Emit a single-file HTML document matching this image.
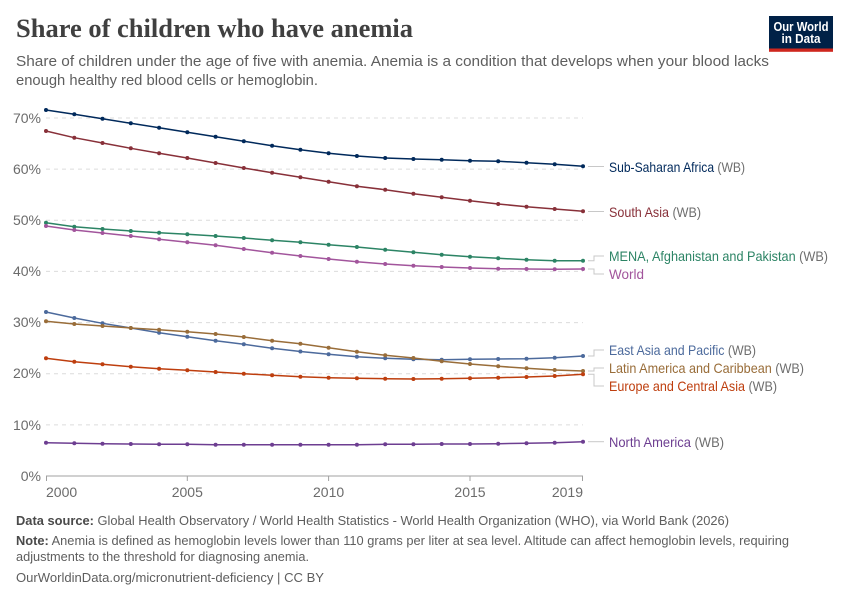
<!DOCTYPE html>
<html><head><meta charset="utf-8"><style>
html,body{margin:0;padding:0;background:#fff;}
svg{display:block;}
text{font-family:"Liberation Sans",sans-serif;}
</style></head><body>
<svg width="850" height="600" viewBox="0 0 850 600" xmlns="http://www.w3.org/2000/svg">
<defs>
<marker id="m1" markerUnits="userSpaceOnUse" markerWidth="6" markerHeight="6" refX="3" refY="3"><circle cx="3" cy="3" r="2" fill="#00295b"/></marker>
<marker id="m2" markerUnits="userSpaceOnUse" markerWidth="6" markerHeight="6" refX="3" refY="3"><circle cx="3" cy="3" r="2" fill="#883039"/></marker>
<marker id="m3" markerUnits="userSpaceOnUse" markerWidth="6" markerHeight="6" refX="3" refY="3"><circle cx="3" cy="3" r="2" fill="#2c8465"/></marker>
<marker id="m4" markerUnits="userSpaceOnUse" markerWidth="6" markerHeight="6" refX="3" refY="3"><circle cx="3" cy="3" r="2" fill="#a2559c"/></marker>
<marker id="m5" markerUnits="userSpaceOnUse" markerWidth="6" markerHeight="6" refX="3" refY="3"><circle cx="3" cy="3" r="2" fill="#4c6a9c"/></marker>
<marker id="m6" markerUnits="userSpaceOnUse" markerWidth="6" markerHeight="6" refX="3" refY="3"><circle cx="3" cy="3" r="2" fill="#996d39"/></marker>
<marker id="m7" markerUnits="userSpaceOnUse" markerWidth="6" markerHeight="6" refX="3" refY="3"><circle cx="3" cy="3" r="2" fill="#be3e0e"/></marker>
<marker id="m8" markerUnits="userSpaceOnUse" markerWidth="6" markerHeight="6" refX="3" refY="3"><circle cx="3" cy="3" r="2" fill="#6d3e91"/></marker>
</defs>

<!-- Title -->
<text x="16" y="37" font-family="Liberation Serif, serif" style="font-family:'Liberation Serif',serif" font-size="26" font-weight="bold" fill="#404040" textLength="397" lengthAdjust="spacingAndGlyphs">Share of children who have anemia</text>
<text x="16" y="66" font-size="15" fill="#5e5e5e" textLength="753" lengthAdjust="spacingAndGlyphs">Share of children under the age of five with anemia. Anemia is a condition that develops when your blood lacks</text>
<text x="16" y="85" font-size="15" fill="#5e5e5e" textLength="302" lengthAdjust="spacingAndGlyphs">enough healthy red blood cells or hemoglobin.</text>

<!-- Logo -->
<rect x="769" y="16" width="64" height="32.5" fill="#002147"/>
<rect x="769" y="48.5" width="64" height="3.3" fill="#ce261e"/>
<text x="801" y="31" font-size="12.5" font-weight="bold" fill="#fff" text-anchor="middle" textLength="55" lengthAdjust="spacingAndGlyphs">Our World</text>
<text x="801" y="43" font-size="12.5" font-weight="bold" fill="#fff" text-anchor="middle" textLength="39" lengthAdjust="spacingAndGlyphs">in Data</text>

<!-- Gridlines -->
<g stroke="#dcdcdc" stroke-width="1" stroke-dasharray="4,4">
<line x1="46" y1="118" x2="583" y2="118"/>
<line x1="46" y1="169.1" x2="583" y2="169.1"/>
<line x1="46" y1="220.3" x2="583" y2="220.3"/>
<line x1="46" y1="271.4" x2="583" y2="271.4"/>
<line x1="46" y1="322.6" x2="583" y2="322.6"/>
<line x1="46" y1="373.7" x2="583" y2="373.7"/>
<line x1="46" y1="424.9" x2="583" y2="424.9"/>
</g>
<!-- Y labels -->
<g font-size="14" fill="#6b6b6b" text-anchor="end">
<text x="41" y="123">70%</text>
<text x="41" y="174">60%</text>
<text x="41" y="225">50%</text>
<text x="41" y="276">40%</text>
<text x="41" y="327">30%</text>
<text x="41" y="378">20%</text>
<text x="41" y="430">10%</text>
<text x="41" y="481">0%</text>
</g>
<!-- X axis -->
<line x1="46" y1="476" x2="583" y2="476" stroke="#a0a0a0" stroke-width="1"/>
<g stroke="#a0a0a0" stroke-width="1">
<line x1="46.5" y1="476" x2="46.5" y2="481"/>
<line x1="187.3" y1="476" x2="187.3" y2="481"/>
<line x1="328.6" y1="476" x2="328.6" y2="481"/>
<line x1="470" y1="476" x2="470" y2="481"/>
<line x1="582.5" y1="476" x2="582.5" y2="481"/>
</g>
<g font-size="14" fill="#6b6b6b">
<text x="46" y="497">2000</text>
<text x="187.3" y="497" text-anchor="middle">2005</text>
<text x="328.6" y="497" text-anchor="middle">2010</text>
<text x="470" y="497" text-anchor="middle">2015</text>
<text x="583" y="497" text-anchor="end">2019</text>
</g>

<!-- Series -->
<g fill="none" stroke-width="1.5" stroke-linejoin="round">
<polyline stroke="#00295b" marker-start="url(#m1)" marker-mid="url(#m1)" marker-end="url(#m1)" points="46,110 74.3,114.3 102.5,118.7 130.8,123.3 159.1,127.7 187.3,132.3 215.6,136.7 243.8,141.3 272.1,145.7 300.4,149.7 328.6,153.3 356.9,156 385.2,158 413.4,159 441.7,159.7 470,160.7 498.2,161.3 526.5,162.7 554.7,164.3 583,166.3"/>
<polyline stroke="#883039" marker-start="url(#m2)" marker-mid="url(#m2)" marker-end="url(#m2)" points="46,131 74.3,137.7 102.5,143 130.8,148.3 159.1,153.3 187.3,158 215.6,163 243.8,168 272.1,172.7 300.4,177.3 328.6,181.7 356.9,186.3 385.2,189.7 413.4,193.7 441.7,197.3 470,200.7 498.2,204 526.5,206.7 554.7,209 583,211.3"/>
<polyline stroke="#2c8465" marker-start="url(#m3)" marker-mid="url(#m3)" marker-end="url(#m3)" points="46,222.7 74.3,226.7 102.5,229 130.8,231 159.1,232.7 187.3,234.3 215.6,236 243.8,238 272.1,240.3 300.4,242.3 328.6,244.7 356.9,247 385.2,249.7 413.4,252.3 441.7,254.7 470,256.7 498.2,258.3 526.5,259.7 554.7,260.7 583,260.7"/>
<polyline stroke="#a2559c" marker-start="url(#m4)" marker-mid="url(#m4)" marker-end="url(#m4)" points="46,226 74.3,230 102.5,233 130.8,236 159.1,239.3 187.3,242.3 215.6,245.3 243.8,249 272.1,252.7 300.4,256 328.6,259 356.9,261.7 385.2,264 413.4,265.7 441.7,267 470,268 498.2,268.7 526.5,269 554.7,269.3 583,269"/>
<polyline stroke="#4c6a9c" marker-start="url(#m5)" marker-mid="url(#m5)" marker-end="url(#m5)" points="46,312 74.3,318 102.5,323.3 130.8,328 159.1,332.7 187.3,336.7 215.6,340.7 243.8,344.3 272.1,348.3 300.4,351.5 328.6,354.3 356.9,356.7 385.2,358.3 413.4,359.3 441.7,359.7 470,359.3 498.2,359 526.5,358.7 554.7,357.7 583,356"/>
<polyline stroke="#996d39" marker-start="url(#m6)" marker-mid="url(#m6)" marker-end="url(#m6)" points="46,321.3 74.3,324 102.5,326 130.8,328 159.1,329.7 187.3,331.7 215.6,334 243.8,337 272.1,340.7 300.4,343.8 328.6,347.7 356.9,351.7 385.2,355.3 413.4,358 441.7,361.3 470,364 498.2,366.3 526.5,368.3 554.7,370 583,371"/>
<polyline stroke="#be3e0e" marker-start="url(#m7)" marker-mid="url(#m7)" marker-end="url(#m7)" points="46,358.3 74.3,361.7 102.5,364.3 130.8,366.7 159.1,368.7 187.3,370.3 215.6,372 243.8,373.7 272.1,375.3 300.4,376.7 328.6,377.7 356.9,378.3 385.2,378.7 413.4,379 441.7,378.7 470,378.3 498.2,377.7 526.5,377 554.7,376 583,374.3"/>
<polyline stroke="#6d3e91" marker-start="url(#m8)" marker-mid="url(#m8)" marker-end="url(#m8)" points="46,442.7 74.3,443.3 102.5,443.7 130.8,444 159.1,444.3 187.3,444.3 215.6,444.7 243.8,444.7 272.1,444.7 300.4,444.7 328.6,444.7 356.9,444.7 385.2,444.3 413.4,444.3 441.7,444 470,444 498.2,443.7 526.5,443.3 554.7,442.7 583,441.7"/>
</g>

<!-- Connectors -->
<g fill="none" stroke="#c8c8c8" stroke-width="1">
<path d="M588,166.5 H604"/>
<path d="M588,211.5 H604"/>
<path d="M588,260.7 H594 V256 H604"/>
<path d="M588,269 H594 V274 H604"/>
<path d="M588,356 H594 V350 H604"/>
<path d="M588,371 H594 V368 H604"/>
<path d="M588,374.3 H594 V386 H604"/>
<path d="M588,441.7 H604"/>
</g>

<!-- Labels -->
<g font-size="14">
<text x="609" y="172" textLength="136" lengthAdjust="spacingAndGlyphs"><tspan fill="#00295b">Sub-Saharan Africa</tspan><tspan fill="#6e6e6e"> (WB)</tspan></text>
<text x="609" y="217" textLength="92" lengthAdjust="spacingAndGlyphs"><tspan fill="#883039">South Asia</tspan><tspan fill="#6e6e6e"> (WB)</tspan></text>
<text x="609" y="261" textLength="219" lengthAdjust="spacingAndGlyphs"><tspan fill="#2c8465">MENA, Afghanistan and Pakistan</tspan><tspan fill="#6e6e6e"> (WB)</tspan></text>
<text x="609" y="279" textLength="35" lengthAdjust="spacingAndGlyphs" fill="#a2559c">World</text>
<text x="609" y="355" textLength="147" lengthAdjust="spacingAndGlyphs"><tspan fill="#4c6a9c">East Asia and Pacific</tspan><tspan fill="#6e6e6e"> (WB)</tspan></text>
<text x="609" y="373" textLength="195" lengthAdjust="spacingAndGlyphs"><tspan fill="#996d39">Latin America and Caribbean</tspan><tspan fill="#6e6e6e"> (WB)</tspan></text>
<text x="609" y="391" textLength="168" lengthAdjust="spacingAndGlyphs"><tspan fill="#be3e0e">Europe and Central Asia</tspan><tspan fill="#6e6e6e"> (WB)</tspan></text>
<text x="609" y="447" textLength="115" lengthAdjust="spacingAndGlyphs"><tspan fill="#6d3e91">North America</tspan><tspan fill="#6e6e6e"> (WB)</tspan></text>
</g>

<!-- Footer -->
<g font-size="13" fill="#5e5e5e">
<text x="16" y="525" textLength="713" lengthAdjust="spacingAndGlyphs"><tspan font-weight="bold" fill="#4a4a4a">Data source:</tspan> Global Health Observatory / World Health Statistics - World Health Organization (WHO), via World Bank (2026)</text>
<text x="16" y="545" textLength="773" lengthAdjust="spacingAndGlyphs"><tspan font-weight="bold" fill="#4a4a4a">Note:</tspan> Anemia is defined as hemoglobin levels lower than 110 grams per liter at sea level. Altitude can affect hemoglobin levels, requiring</text>
<text x="16" y="561" textLength="293" lengthAdjust="spacingAndGlyphs">adjustments to the threshold for diagnosing anemia.</text>
<text x="16" y="582" textLength="308" lengthAdjust="spacingAndGlyphs">OurWorldinData.org/micronutrient-deficiency | CC BY</text>
</g>
</svg>
</body></html>
